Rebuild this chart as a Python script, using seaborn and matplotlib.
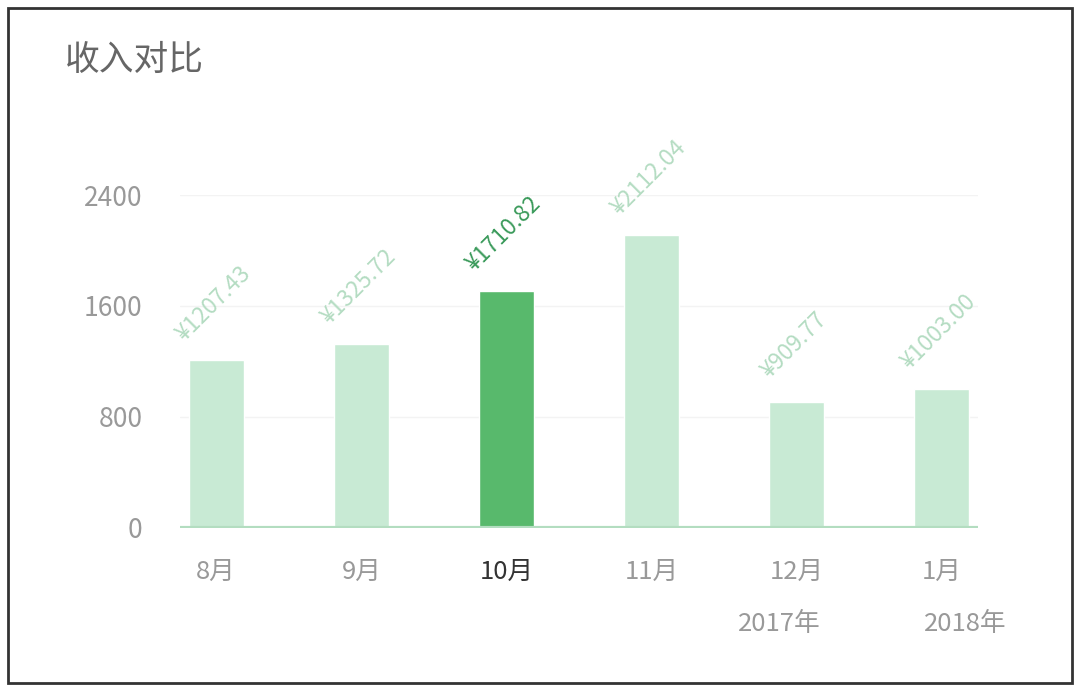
import matplotlib
matplotlib.use("Agg")
import matplotlib.pyplot as plt
from matplotlib.patches import Rectangle
import matplotlib.transforms as mtransforms
import pandas as pd
import seaborn as sns

# ==========================================================
# DATA
# ==========================================================

months = ["8月", "9月", "10月", "11月", "12月", "1月"]
income = [1207.43, 1325.72, 1710.82, 2112.04, 909.77, 1003.00]
year_labels = {"12月": "2017年", "1月": "2018年"}
highlight = "10月"
y_ticks = [0, 800, 1600, 2400]

LIGHT = "#c8ead4"
DARK = "#58b96c"

# ==========================================================
# PLOT
# ==========================================================

sns.set_theme(style="white")
plt.rcParams["font.family"] = ["Noto Sans CJK SC", "DejaVu Sans"]

df = pd.DataFrame({"month": months, "income": income})
palette = {m: (DARK if m == highlight else LIGHT) for m in months}

fig = plt.figure(figsize=(10.8, 6.91), dpi=100)
ax = fig.add_axes([0.1667, 0.2359, 0.7389, 0.4819])

sns.barplot(data=df, x="month", y="income", hue="month", palette=palette,
            order=months, width=0.38, saturation=1, legend=False, ax=ax)

ax.set_xlim(-0.25, 5.25)
ax.set_ylim(0, 2400)
ax.set_yticks(y_ticks)
ax.set_yticklabels([str(t) for t in y_ticks], fontsize=19, color="#999999",
                   fontweight="light")
ax.set_xlabel("")
ax.set_ylabel("")
ax.tick_params(axis="y", length=0, pad=27)
ax.tick_params(axis="x", length=0, pad=22)
ax.set_xticks(range(len(months)))
ax.set_xticklabels(months, fontsize=18.5, fontweight="light")
for lbl, m in zip(ax.get_xticklabels(), months):
    lbl.set_color("#333333" if m == highlight else "#999999")

ax.grid(axis="y", color="#f3f3f3", linewidth=1)
ax.set_axisbelow(True)
for s in ax.spines.values():
    s.set_visible(False)
ax.axhline(0, color="#b3ddc0", linewidth=3, zorder=3)

# value labels
for i, (m, v) in enumerate(zip(months, income)):
    ax.annotate(f"¥{v:.2f}", xy=(i, v), xytext=(-3, 57), textcoords="offset pixels",
                rotation=45, ha="center", va="center", rotation_mode="anchor",
                fontsize=16.5, fontweight="light" if m != highlight else "normal",
                color=("#3a9a5a" if m == highlight else "#b4dcc2"),
                annotation_clip=False)

# year labels under Dec / Jan
trans = mtransforms.blended_transform_factory(ax.transData, fig.transFigure)
for i, m in enumerate(months):
    if m in year_labels:
        dx = -0.12 if m == "12月" else 0.16
        ax.text(i + dx, 1 - 624 / 691, year_labels[m], transform=trans,
                ha="center", va="center", fontsize=18.5, fontweight="light",
                color="#999999")

# title and frame
fig.text(65 / 1080, 1 - 60 / 691, "收入对比", fontsize=25, color="#666666",
         ha="left", va="center")
fig.patches.append(Rectangle((8 / 1080, 8 / 691), 1064 / 1080, 675 / 691,
                             transform=fig.transFigure, fill=False,
                             edgecolor="#333333", linewidth=2))

fig.savefig("out.png", dpi=100)
